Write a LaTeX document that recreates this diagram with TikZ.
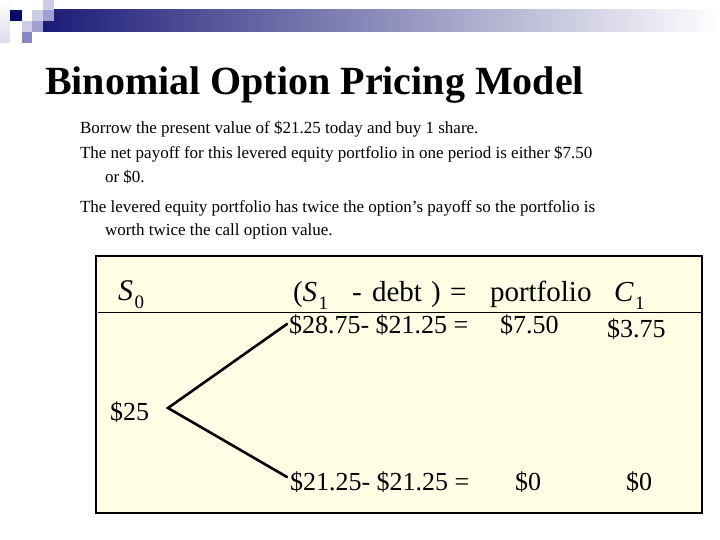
\documentclass[tikz,border=0pt]{standalone}
\usepackage{fontspec}
\setmainfont{Liberation Serif}
\definecolor{barnavy}{RGB}{28,28,120}
\definecolor{barmid}{RGB}{165,165,195}
\definecolor{sqnavy}{RGB}{10,10,110}
\definecolor{sqlight}{RGB}{205,205,232}
\definecolor{sqmid}{RGB}{160,160,210}
\definecolor{sqdark}{RGB}{135,135,195}
\definecolor{boxyellow}{RGB}{255,255,230}
\newcommand{\subnum}[1]{\kern1.5pt\raisebox{-0.28em}{\fontsize{19}{19}\selectfont #1}}
\begin{document}
\begin{tikzpicture}[x=1pt,y=-1pt,
  txt/.style={anchor=base west,inner sep=0pt,outer sep=0pt},
  title/.style={txt,font=\fontsize{40}{40}\selectfont\bfseries},
  bodytxt/.style={txt,font=\fontsize{17}{17}\selectfont},
  boxtxt/.style={txt,font=\fontsize{26}{26}\selectfont},
  headtxt/.style={txt,font=\fontsize{29}{29}\selectfont},
  branch/.style={line width=2.6pt,line cap=round,line join=miter}]
\useasboundingbox (0,0) rectangle (720,540);
\fill[white] (0,0) rectangle (720,540);
% header decoration
\shade[left color=barnavy, middle color=barmid, right color=white] (43,10) rectangle (720,32);
\shade[top color=white, bottom color=sqlight!70] (0,0) rectangle (10,43);
\fill[sqnavy] (10,10) rectangle (21.5,21.5);
\fill[sqlight] (32,10) rectangle (43,21.5);
\fill[sqlight] (43,0) rectangle (54,10);
\fill[sqmid] (43,10) rectangle (54,21.5);
\fill[sqlight] (21.5,21.5) rectangle (32,32);
\fill[sqmid] (32,21.5) rectangle (43,32);
\fill[sqdark] (21.5,32) rectangle (32,43);
% title and text
\node[title] (ttl) at (45,95) {Binomial Option Pricing Model};
\node[bodytxt] (l1) at (80,134) {Borrow the present value of \$21.25 today and buy 1 share.};
\node[bodytxt] (l2) at (80,159) {The net payoff for this levered equity portfolio in one period is either \$7.50};
\node[bodytxt] (l3) at (105,183) {or \$0.};
\node[bodytxt] (l4) at (80,212) {The levered equity portfolio has twice the option’s payoff so the portfolio is};
\node[bodytxt] (l5) at (105,236) {worth twice the call option value.};
% box
\draw[line width=1.6pt, fill=boxyellow] (96,256) rectangle (702,513);
\draw[line width=1pt] (98,312) -- (702,312);
\node[headtxt,font=\fontsize{30}{30}\selectfont] (s0) at (118,300) {\textit{S}\subnum{0}};
\node[headtxt] (hA) at (293,301) {(\textit{S}\subnum{1}};
\node[headtxt] (hB) at (352,301) {-};
\node[headtxt] (hC) at (372,301) {debt};
\node[headtxt] (hD) at (431,301) {)};
\node[headtxt] (hE) at (450,301) {=};
\node[headtxt] (hF) at (490,301) {portfolio};
\node[headtxt] (hG) at (614,301) {\textit{C}\subnum{1}};
\node[boxtxt] (up1) at (289,333) {\$28.75- \$21.25 =};
\node[boxtxt] (up2) at (500,333) {\$7.50};
\node[boxtxt] (up3) at (607,337) {\$3.75};
\node[boxtxt] (s25) at (110,420) {\$25};
\node[boxtxt] (dn1) at (290,490) {\$21.25- \$21.25 =};
\node[boxtxt] (dn2) at (515,490) {\$0};
\node[boxtxt] (dn3) at (626,490) {\$0};
\coordinate (apex) at (168,408);
\coordinate (upend) at (287,324);
\coordinate (dnend) at (287,477);
\draw[branch] (upend) -- (apex) -- (dnend);
\end{tikzpicture}
\end{document}
